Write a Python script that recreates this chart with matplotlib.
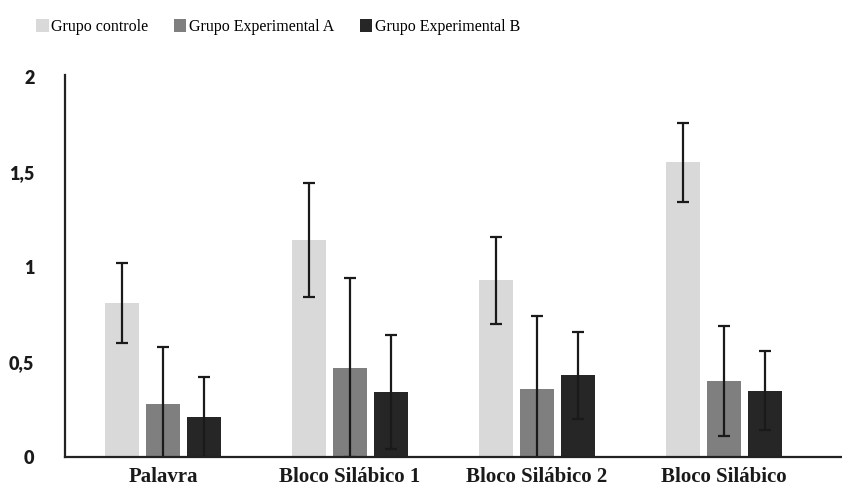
import numpy as np
import matplotlib.pyplot as plt
from matplotlib.patches import Patch
from matplotlib.ticker import FuncFormatter

# values
categorias = ['Palavra', 'Bloco Silábico 1', 'Bloco Silábico 2', 'Bloco Silábico']
grupos = ['Grupo controle', 'Grupo Experimental A', 'Grupo Experimental B']

controle = [0.81, 1.14, 0.93, 1.55]
controle_err = [0.21, 0.30, 0.23, 0.21]

exp_a = [0.28, 0.47, 0.36, 0.40]
exp_a_err = [0.30, 0.47, 0.38, 0.29]

exp_b = [0.21, 0.34, 0.43, 0.35]
exp_b_err = [0.21, 0.30, 0.23, 0.21]

cores = ['#d9d9d9', '#7f7f7f', '#262626']

fig = plt.figure(figsize=(8.42, 4.90), dpi=100)
ax = fig.add_axes([0.0772, 0.0673, 0.9228, 0.7796])

x = np.arange(len(categorias))
w = 0.18
off = 0.22

series = [(controle, controle_err), (exp_a, exp_a_err), (exp_b, exp_b_err)]
for i, (vals, err) in enumerate(series):
    ax.bar(x + (i - 1) * off, vals, width=w, color=cores[i],
           yerr=err, capsize=4,
           error_kw=dict(ecolor='#1a1a1a', elinewidth=1.6, capthick=1.6))

ax.set_xlim(-0.524, 3.63)
ax.set_ylim(0, 2.01)
ax.set_yticks([0, 0.5, 1, 1.5, 2])
ax.yaxis.set_major_formatter(FuncFormatter(lambda v, p: ('%g' % v).replace('.', ',')))
ax.tick_params(axis='y', length=0, pad=22)
ax.tick_params(axis='x', length=0, pad=7)
for lab in ax.get_yticklabels():
    lab.set_fontfamily('Lato')
    lab.set_fontweight('heavy')
    lab.set_fontsize(13)
    lab.set_color('#1a1a1a')

ax.set_xticks(x)
ax.set_xticklabels(categorias, fontfamily='Liberation Serif', fontweight='bold',
                   fontsize=15, color='#1a1a1a')

ax.spines['top'].set_visible(False)
ax.spines['right'].set_visible(False)
ax.spines['left'].set_linewidth(1.6)
ax.spines['bottom'].set_linewidth(1.6)
ax.spines['left'].set_color('#222222')
ax.spines['bottom'].set_color('#222222')

handles = [Patch(facecolor=c, edgecolor='none') for c in cores]
fig.legend(handles, grupos, loc='center', bbox_to_anchor=(0.33, 0.945), ncol=3,
           frameon=False, handlelength=0.8, handleheight=0.8, handletextpad=0.15,
           columnspacing=1.6, prop={'family': 'Liberation Serif', 'size': 11.5})

fig.savefig('out.png', dpi=100)
